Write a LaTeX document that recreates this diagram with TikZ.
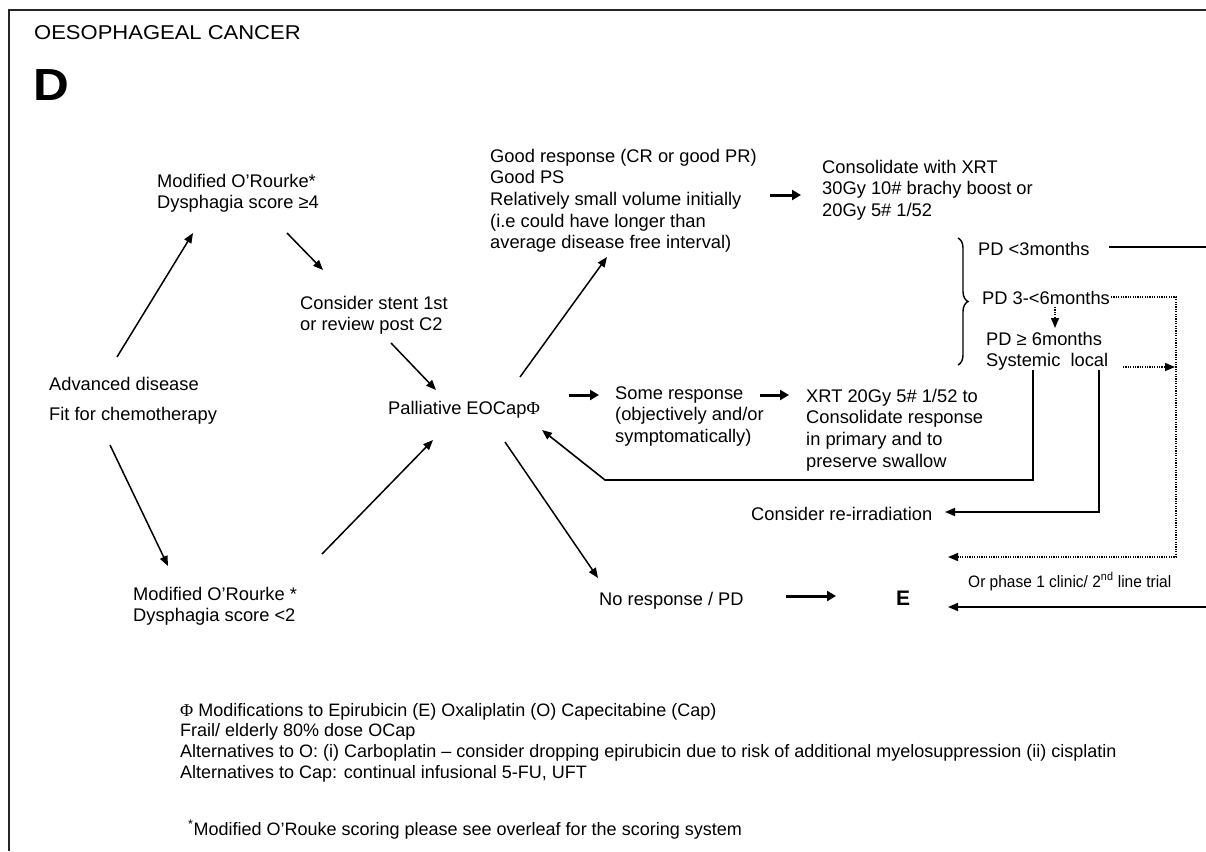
\documentclass[tikz,border=0pt]{standalone}
\usepackage{fontspec}
\setmainfont{Liberation Sans}
\newfontfamily\phifont{Liberation Serif}
\newfontfamily\headfont[FakeStretch=1.1]{Liberation Sans}
\newfontfamily\letterfont[FakeStretch=1.1]{Liberation Sans}
\newfontfamily\narrowfont[FakeStretch=0.94]{Liberation Sans}
\usetikzlibrary{arrows.meta,decorations.pathreplacing}
% left-aligned block whose baseline is that of its first line
\newcommand{\stack}[1]{\begin{tabular}[t]{@{}l@{}}#1\end{tabular}}
\newcommand{\phisym}{{\phifont Φ}}

\begin{document}
\begin{tikzpicture}[x=1pt,y=-1pt,
  txt/.style={anchor=base west, inner sep=0pt, font=\fontsize{18.3}{21.7}\selectfont},
  note/.style={anchor=base west, inner sep=0pt, font=\fontsize{18}{20.7}\selectfont},
  link/.style={line width=1.5pt, -{Triangle[length=10pt,width=8pt]}},
  boldarrow/.style={line width=3pt, -{Triangle[length=9pt,width=10pt]}},
  dotlink/.style={line width=1.4pt, dash pattern=on 1.2pt off 1.2pt},
  dotarrow/.style={dotlink, -{Triangle[length=10pt,width=8pt]}},
  wire/.style={line width=1.6pt},
  wirearrow/.style={wire, -{Triangle[length=10pt,width=8pt]}},
  frame/.style={line width=2pt, draw=black!85}]
\useasboundingbox (0,0) rectangle (1206,851);
\fill[white] (0,0) rectangle (1206,851);

% page frame (open at right and bottom)
\draw[frame] (9,851) -- (9,10) -- (1206,10);

% headings
\node[anchor=base west, inner sep=0pt, font=\headfont\fontsize{20}{22}\selectfont] (title) at (34,40) {OESOPHAGEAL CANCER};
\node[anchor=base west, inner sep=0pt, font=\letterfont\bfseries\fontsize{45}{50}\selectfont] (panel) at (33.5,100) {D};

% left part of the pathway
\node[txt] (advanced) at (49,390) {\stack{Advanced disease\\[9pt]Fit for chemotherapy}};
\node[txt] (modtop) at (157,187) {\stack{Modified O’Rourke*\\Dysphagia score ≥4}};
\node[txt] (stent) at (300,309) {\stack{Consider stent 1st\\or review post C2}};
\node[txt] (modbot) at (133,600) {\stack{Modified O’Rourke *\\Dysphagia score <2}};
\node[txt] (pall) at (388,414) {Palliative EOCap\phisym};

% responses
\node[txt] (good) at (490,162) {\stack{Good response (CR or good PR)\\Good PS\\Relatively small volume initially\\(i.e could have longer than\\average disease free interval)}};
\node[txt] (consol) at (822,173) {\stack{Consolidate with XRT\\30Gy 10\# brachy boost or\\20Gy 5\# 1/52}};
\node[txt] (some) at (615,399) {\stack{Some response\\(objectively and/or\\symptomatically)}};
\node[txt] (xrt) at (806,402) {\stack{XRT 20Gy 5\# 1/52 to\\Consolidate response\\in primary and to\\preserve swallow}};
\node[txt] (noresp) at (599,605) {No response / PD};
\node[anchor=base, inner sep=0pt, font=\bfseries\fontsize{21}{24}\selectfont] (E) at (903,605) {E};

% progression after consolidation
\node[txt] (pdthree) at (978,255) {PD <3months};
\node[txt] (pdmid) at (982,304) {PD 3-<6months};
\node[txt] (pdsix) at (986,345) {\stack{PD ≥ 6months\\Systemic\ \ local}};
\node[txt] (reirr) at (751,520) {Consider re-irradiation};
\node[anchor=base west, inner sep=0pt, font=\narrowfont\fontsize{16.5}{19}\selectfont] (phase) at (968,587) {Or phase 1 clinic/ 2\textsuperscript{nd} line trial};

% notes
\node[note] (notes) at (180,716) {\stack{\phisym{} Modifications to Epirubicin (E) Oxaliplatin (O) Capecitabine (Cap)\\
Frail/ elderly 80\% dose OCap\\
Alternatives to O: (i) Carboplatin – consider dropping epirubicin due to risk of additional myelosuppression (ii) cisplatin\\
Alternatives to Cap: continual infusional 5-FU, UFT}};
\node[note] (footnote) at (188,835) {\textsuperscript{*}Modified O’Rouke scoring please see overleaf for the scoring system};

% connector end points
\coordinate (a1) at (117,357);  \coordinate (a2) at (193,233);
\coordinate (b1) at (287,233);  \coordinate (b2) at (323,270);
\coordinate (c1) at (391,343);  \coordinate (c2) at (436,390);
\coordinate (d1) at (110,445);  \coordinate (d2) at (168,566);
\coordinate (e1) at (322,554);  \coordinate (e2) at (433,440);
\coordinate (f1) at (520,377);  \coordinate (f2) at (607,257);
\coordinate (g1) at (505,442);  \coordinate (g2) at (598,578);
\coordinate (h1) at (569,395);  \coordinate (h2) at (599,395);
\coordinate (i1) at (760,395);  \coordinate (i2) at (789,395);
\coordinate (j1) at (770,195);  \coordinate (j2) at (801,195);
\coordinate (k1) at (786,596);  \coordinate (k2) at (836,596);
\coordinate (pdthreeEnd) at (1109,247); \coordinate (pdthreeOut) at (1206,247);
\coordinate (eIn) at (1206,607);  \coordinate (eTip) at (948,607);
\coordinate (pdmidEnd) at (1111,297); \coordinate (dotCorner) at (1176,297);
\coordinate (dotLow) at (1176,557);   \coordinate (dotTip) at (948,557);
\coordinate (m1) at (1055,307); \coordinate (m2) at (1055,328);
\coordinate (n1) at (1123,367); \coordinate (n2) at (1175,367);
\coordinate (sysTop) at (1033,370); \coordinate (sysLow) at (1033,480);
\coordinate (backKnee) at (605,480); \coordinate (backTip) at (542,430);
\coordinate (locTop) at (1099,370); \coordinate (locLow) at (1099,512);
\coordinate (reTip) at (945,512);

% thin arrows
\draw[link] (a1) -- (a2);
\draw[link] (b1) -- (b2);
\draw[link] (c1) -- (c2);
\draw[link] (d1) -- (d2);
\draw[link] (e1) -- (e2);
\draw[link] (f1) -- (f2);
\draw[link] (g1) -- (g2);

% short bold arrows
\draw[boldarrow] (h1) -- (h2);
\draw[boldarrow] (i1) -- (i2);
\draw[boldarrow] (j1) -- (j2);
\draw[boldarrow] (k1) -- (k2);

% brace over the progression options
\draw[line width=1.4pt, decorate, decoration={brace, amplitude=10pt}] (958,238) -- (958,365);

% progression connectors
\draw[wire] (pdthreeEnd) -- (pdthreeOut);
\draw[wirearrow] (eIn) -- (eTip);
\draw[dotarrow] (pdmidEnd) -- (dotCorner) -- (dotLow) -- (dotTip);
\draw[dotarrow] (m1) -- (m2);
\draw[dotarrow] (n1) -- (n2);
\draw[wirearrow] (sysTop) -- (sysLow) -- (backKnee) -- (backTip);
\draw[wirearrow] (locTop) -- (locLow) -- (reTip);
\end{tikzpicture}
\end{document}
